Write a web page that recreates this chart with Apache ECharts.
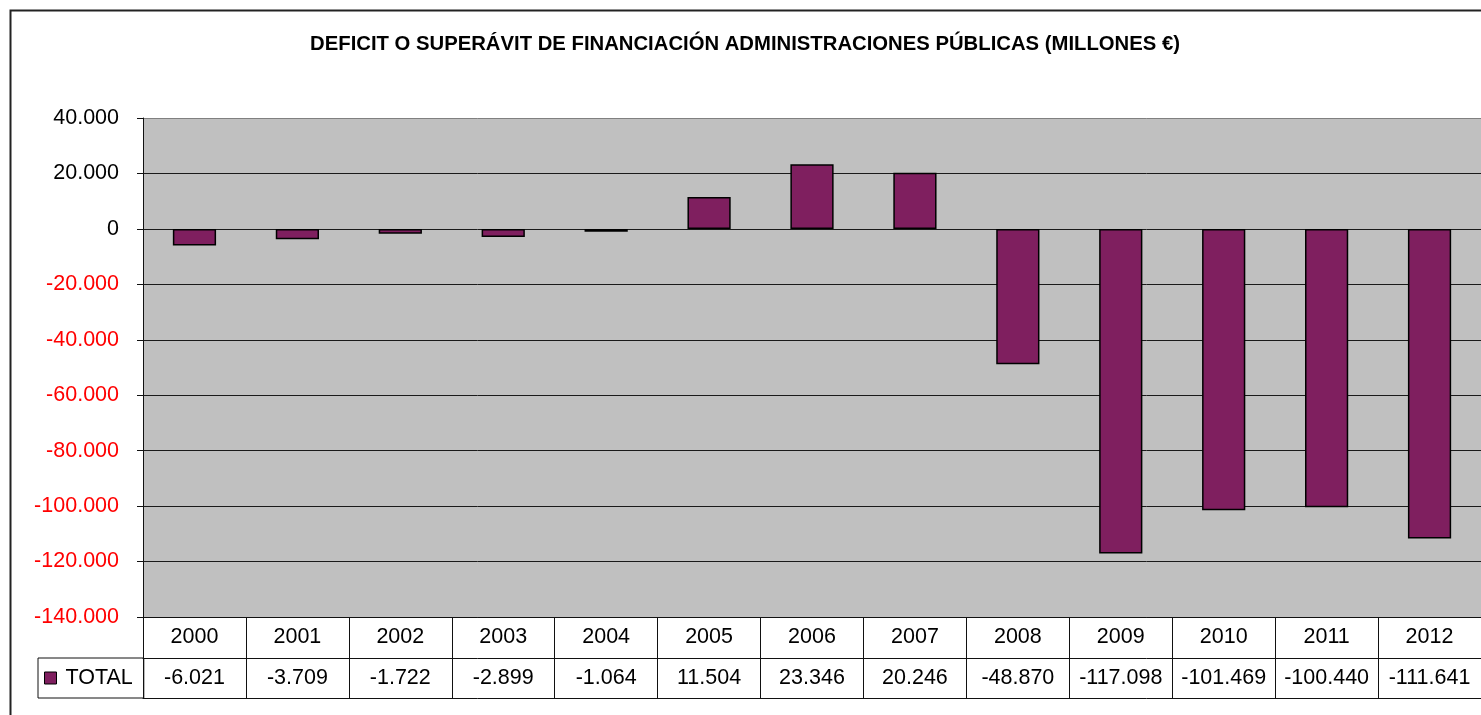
<!DOCTYPE html>
<html>
<head>
<meta charset="utf-8">
<script src="https://cdn.jsdelivr.net/npm/echarts@6/dist/echarts.min.js"></script>
<style>
html,body{margin:0;padding:0;background:#fff;}
#c{width:1481px;height:715px;}
</style>
</head>
<body>
<div id="c"></div>
<script>
const titleText = 'DEFICIT O SUPERÁVIT DE FINANCIACIÓN ADMINISTRACIONES PÚBLICAS (MILLONES €)';
const years = ['2000','2001','2002','2003','2004','2005','2006','2007','2008','2009','2010','2011','2012'];
const seriesName = 'TOTAL';
const totals = [-6021, -3709, -1722, -2899, -1064, 11504, 23346, 20246, -48870, -117098, -101469, -100440, -111641];
const yMin = -140000, yMax = 40000, yStep = 20000;

const FONT = '"Liberation Sans", Arial, sans-serif';
const FS = 21.5;

function fmt(v){
  v = Number(v);
  const neg = v < 0;
  let s = Math.abs(Math.round(v)).toString();
  s = s.replace(/\B(?=(\d{3})+(?!\d))/g, '.');
  return (neg ? '-' : '') + s;
}

const chart = echarts.init(document.getElementById('c'), null, {renderer:'canvas'});

const splitColors = [];
for (let v = yMin; v <= yMax; v += yStep) splitColors.push(v === yMax ? '#808080' : '#1a1a1a');

const gridCfg = {left:143, top:118, width:1339, height:499};

const option = {
  backgroundColor:'#ffffff',
  animation:false,
  title:{
    text:titleText,
    left:740, top:29, textAlign:'center',
    textStyle:{fontFamily:FONT, fontSize:20.3, fontWeight:'bold', color:'#000'}
  },
  graphic:[{
    type:'rect', left:8, top:8, silent:true,
    shape:{width:1500, height:720},
    style:{fill:'none', stroke:'#222', lineWidth:2}
  }],
  legend:{
    data:[seriesName],
    left:38, top:658,
    orient:'horizontal',
    padding:[9, 11, 9, 6],
    itemWidth:12, itemHeight:12,
    icon:'rect',
    borderColor:'#111', borderWidth:1,
    itemStyle:{borderColor:'#000', borderWidth:1},
    textStyle:{fontFamily:FONT, fontSize:FS, color:'#000', padding:[0,0,0,4]}
  },
  grid:Object.assign({show:true, backgroundColor:'#C0C0C0', borderWidth:0}, gridCfg),
  xAxis:[{
    type:'category', data:years, position:'bottom',
    axisLine:{show:true, onZero:false, lineStyle:{color:'#111', width:1}},
    axisTick:{show:true, interval:0, length:81, lineStyle:{color:'#111', width:1}},
    axisLabel:{
      interval:0, margin:0,
      formatter:function(val, idx){ return '{a|' + val + '}\n{b|' + fmt(totals[idx]) + '}'; },
      rich:{
        a:{fontFamily:FONT, fontSize:FS, color:'#000', lineHeight:41, align:'center'},
        b:{fontFamily:FONT, fontSize:FS, color:'#000', lineHeight:40, align:'center'}
      }
    },
    splitLine:{show:false}
  },{
    type:'category', data:years, position:'bottom', offset:41,
    axisLine:{show:true, onZero:false, lineStyle:{color:'#111', width:1}},
    axisTick:{show:false}, axisLabel:{show:false}, splitLine:{show:false}
  },{
    type:'category', data:years, position:'bottom', offset:81,
    axisLine:{show:true, onZero:false, lineStyle:{color:'#111', width:1}},
    axisTick:{show:false}, axisLabel:{show:false}, splitLine:{show:false}
  }],
  yAxis:{
    type:'value', min:yMin, max:yMax, interval:yStep,
    axisLine:{show:true, lineStyle:{color:'#111', width:1}},
    axisTick:{show:true, inside:false, length:6, lineStyle:{color:'#111'}},
    axisLabel:{
      margin:24, fontFamily:FONT, fontSize:FS,
      formatter:function(v){ return fmt(v); },
      color:function(v){ return Number(v) < 0 ? '#FF0000' : '#000000'; }
    },
    splitLine:{show:true, lineStyle:{color:splitColors, width:1}}
  },
  series:[{
    name:seriesName, type:'bar', data:totals, barWidth:'42%',
    xAxisIndex:0,
    itemStyle:{color:'#7F1F5F', borderColor:'#000', borderWidth:1.5}
  }]
};
chart.setOption(option);
</script>
</body>
</html>
